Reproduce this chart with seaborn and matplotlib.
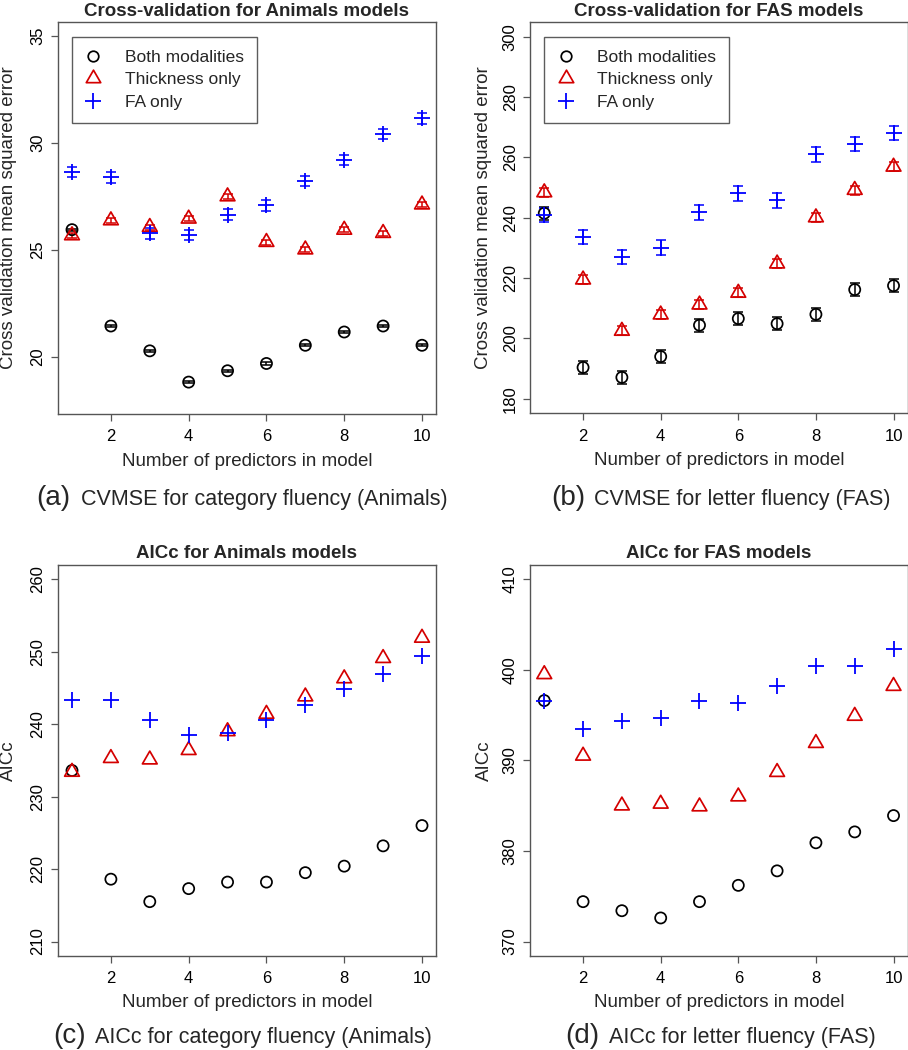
import numpy as np
import pandas as pd
import matplotlib
matplotlib.use("Agg")
import matplotlib.pyplot as plt
import seaborn as sns
from matplotlib.lines import Line2D
from matplotlib.path import Path

# ---------------- data ----------------
n_pred = [1, 2, 3, 4, 5, 6, 7, 8, 9, 10]

cv_animals_both = [25.95, 21.45, 20.29, 18.83, 19.36, 19.70, 20.55, 21.17, 21.45, 20.55]
cv_animals_both_se = [0.05, 0.05, 0.05, 0.05, 0.05, 0.05, 0.05, 0.05, 0.05, 0.05]
cv_animals_thick = [25.68, 26.38, 26.07, 26.46, 27.50, 25.37, 25.02, 25.94, 25.79, 27.12]
cv_animals_thick_se = [0.12, 0.12, 0.12, 0.12, 0.12, 0.12, 0.12, 0.12, 0.12, 0.12]
cv_animals_fa = [28.64, 28.40, 25.78, 25.70, 26.65, 27.09, 28.22, 29.21, 30.42, 31.15]
cv_animals_fa_se = [0.25, 0.25, 0.25, 0.25, 0.25, 0.25, 0.25, 0.25, 0.25, 0.25]

cv_fas_both = [241.5, 190.4, 187.1, 194.0, 204.4, 206.6, 204.9, 208.0, 216.2, 217.5]
cv_fas_both_se = [2.2, 2.2, 2.2, 2.2, 2.2, 2.2, 2.2, 2.2, 2.2, 2.2]
cv_fas_thick = [248.4, 219.5, 202.5, 207.9, 211.2, 215.1, 224.8, 240.1, 249.2, 256.9]
cv_fas_thick_se = [1.5, 1.5, 1.5, 1.5, 1.5, 1.5, 1.5, 1.5, 1.5, 1.5]
cv_fas_fa = [240.9, 233.6, 227.0, 230.1, 241.8, 248.1, 245.8, 261.0, 264.5, 268.1]
cv_fas_fa_se = [2.4, 2.4, 2.4, 2.4, 2.4, 2.4, 2.4, 2.4, 2.4, 2.4]

aic_animals_both = [233.6, 218.6, 215.5, 217.3, 218.2, 218.2, 219.5, 220.4, 223.2, 226.0]
aic_animals_thick = [233.4, 235.3, 235.1, 236.4, 239.0, 241.4, 243.8, 246.3, 249.1, 251.9]
aic_animals_fa = [243.3, 243.3, 240.6, 238.5, 238.8, 240.5, 242.7, 244.8, 246.9, 249.4]

aic_fas_both = [396.6, 374.4, 373.4, 372.6, 374.4, 376.2, 377.8, 380.9, 382.1, 383.9]
aic_fas_thick = [399.5, 390.5, 385.0, 385.2, 384.9, 386.0, 388.7, 391.9, 394.9, 398.2]
aic_fas_fa = [396.6, 393.5, 394.3, 394.7, 396.5, 396.3, 398.2, 400.4, 400.4, 402.3]

series_labels = ["Both modalities", "Thickness only", "FA only"]
x_ticks = [2, 4, 6, 8, 10]

panel_titles = ["Cross-validation for Animals models", "Cross-validation for FAS models",
                "AICc for Animals models", "AICc for FAS models"]
y_labels = ["Cross validation mean squared error", "Cross validation mean squared error",
            "AICc", "AICc"]
cap_tags = ["(a)", "(b)", "(c)", "(d)"]
cap_texts = ["CVMSE for category fluency (Animals)", "CVMSE for letter fluency (FAS)",
             "AICc for category fluency (Animals)", "AICc for letter fluency (FAS)"]

# ---------------- style ----------------
sns.set_theme(style="white")
plt.rcParams["font.family"] = ["Liberation Sans", "DejaVu Sans"]

BLACK = "#000000"
RED = "#D40000"
BLUE = "#0000FF"
FRAME = "#555555"

tri = Path([(0, 1), (-0.866, -0.5), (0.866, -0.5), (0, 0)],
           [Path.MOVETO, Path.LINETO, Path.LINETO, Path.CLOSEPOLY])

W, H = 908, 1050
fig = plt.figure(figsize=(W / 100, H / 100), dpi=100)


def add_ax(l, t, r, b):
    return fig.add_axes([l / W, 1 - b / H, (r - l) / W, (b - t) / H])


def draw_panel(ax, both, thick, fa, ses, ylim, yticks, title, ylabel, legend,
               ylab_x, tag, text, tag_x, text_x, cap_y):
    df = pd.DataFrame({"n": n_pred, "both": both, "thick": thick, "fa": fa})
    if ses is not None:
        for yv, se, c in zip([both, thick, fa], ses, [BLACK, RED, BLUE]):
            ax.errorbar(n_pred, yv, yerr=se, fmt="none", ecolor=c,
                        elinewidth=1.1, capsize=3.4, capthick=1.1, zorder=2)
    sns.scatterplot(data=df, x="n", y="both", ax=ax, marker="o", s=64,
                    color=BLACK, facecolor="none", edgecolor=BLACK,
                    linewidth=1.25, zorder=3)
    sns.scatterplot(data=df, x="n", y="thick", ax=ax, marker=tri, s=150,
                    color=RED, facecolor="none", edgecolor=RED,
                    linewidth=1.25, zorder=3)
    sns.scatterplot(data=df, x="n", y="fa", ax=ax, marker="+", s=140,
                    color=BLUE, linewidth=1.3, zorder=3)
    ax.set_xlim(0.64, 10.36)
    ax.set_ylim(*ylim)
    ax.set_xticks(x_ticks)
    ax.set_yticks(yticks)
    ax.tick_params(axis="both", bottom=True, left=True, direction="out",
                   length=5, width=0.9, color=FRAME, labelsize=12,
                   labelcolor="black")
    ax.tick_params(axis="x", pad=6)
    ax.tick_params(axis="y", pad=4)
    for lab in ax.get_yticklabels():
        lab.set_rotation(90)
        lab.set_va("center")
    for sp in ax.spines.values():
        sp.set_color(FRAME)
        sp.set_linewidth(1.0)
    ax.set_title(title, fontsize=13.5, fontweight="bold", pad=4.5)
    ax.set_xlabel("Number of predictors in model", fontsize=13.5)
    ax.xaxis.label.set_va("center")
    ax.xaxis.set_label_coords(0.5, -0.12)
    ax.set_ylabel(ylabel, fontsize=13.5)
    ax.yaxis.label.set_va("center")
    ax.yaxis.set_label_coords(ylab_x, 0.5)
    if legend:
        handles = [
            Line2D([], [], ls="none", marker="o", ms=7.6, mfc="none", mec=BLACK, mew=1.25),
            Line2D([], [], ls="none", marker=tri, ms=12, mfc="none", mec=RED, mew=1.25),
            Line2D([], [], ls="none", marker="+", ms=11.5, color=BLUE, mew=1.3),
        ]
        leg = ax.legend(handles, series_labels, loc="upper left",
                        bbox_to_anchor=(13.7 / 378, 1 - 14.7 / 392),
                        borderaxespad=0, frameon=True, fancybox=False,
                        fontsize=12.5, borderpad=0.75, labelspacing=0.42,
                        handlelength=1.0, handletextpad=1.3)
        leg.get_frame().set_edgecolor("#333333")
        leg.get_frame().set_linewidth(1.0)
    fig.text(tag_x / W, 1 - cap_y / H, tag, fontsize=20, ha="left", va="baseline")
    fig.text(text_x / W, 1 - cap_y / H, text, fontsize=15.5, ha="left", va="baseline")


ax_a = add_ax(58, 22, 436, 414)
ax_b = add_ax(530.3, 22, 907.5, 413.3)
ax_c = add_ax(58, 564.7, 436, 956)
ax_d = add_ax(530.3, 564.7, 907.5, 956)

draw_panel(ax_a, cv_animals_both, cv_animals_thick, cv_animals_fa,
           [cv_animals_both_se, cv_animals_thick_se, cv_animals_fa_se],
           (17.34, 35.65), [20, 25, 30, 35], panel_titles[0], y_labels[0], True,
           -0.132, cap_tags[0], cap_texts[0], 36.7, 81, 505)
draw_panel(ax_b, cv_fas_both, cv_fas_thick, cv_fas_fa,
           [cv_fas_both_se, cv_fas_thick_se, cv_fas_fa_se],
           (175.2, 304.9), [180, 200, 220, 240, 260, 280, 300], panel_titles[1], y_labels[1], True,
           -0.125, cap_tags[1], cap_texts[1], 551.7, 594.3, 505)
draw_panel(ax_c, aic_animals_both, aic_animals_thick, aic_animals_fa, None,
           (208.0, 262.0), [210, 220, 230, 240, 250, 260], panel_titles[2], y_labels[2], False,
           -0.132, cap_tags[2], cap_texts[2], 53.3, 95, 1043)
draw_panel(ax_d, aic_fas_both, aic_fas_thick, aic_fas_fa, None,
           (368.4, 411.6), [370, 380, 390, 400, 410], panel_titles[3], y_labels[3], False,
           -0.122, cap_tags[3], cap_texts[3], 565, 609, 1043)

fig.savefig("out.png", dpi=100)
